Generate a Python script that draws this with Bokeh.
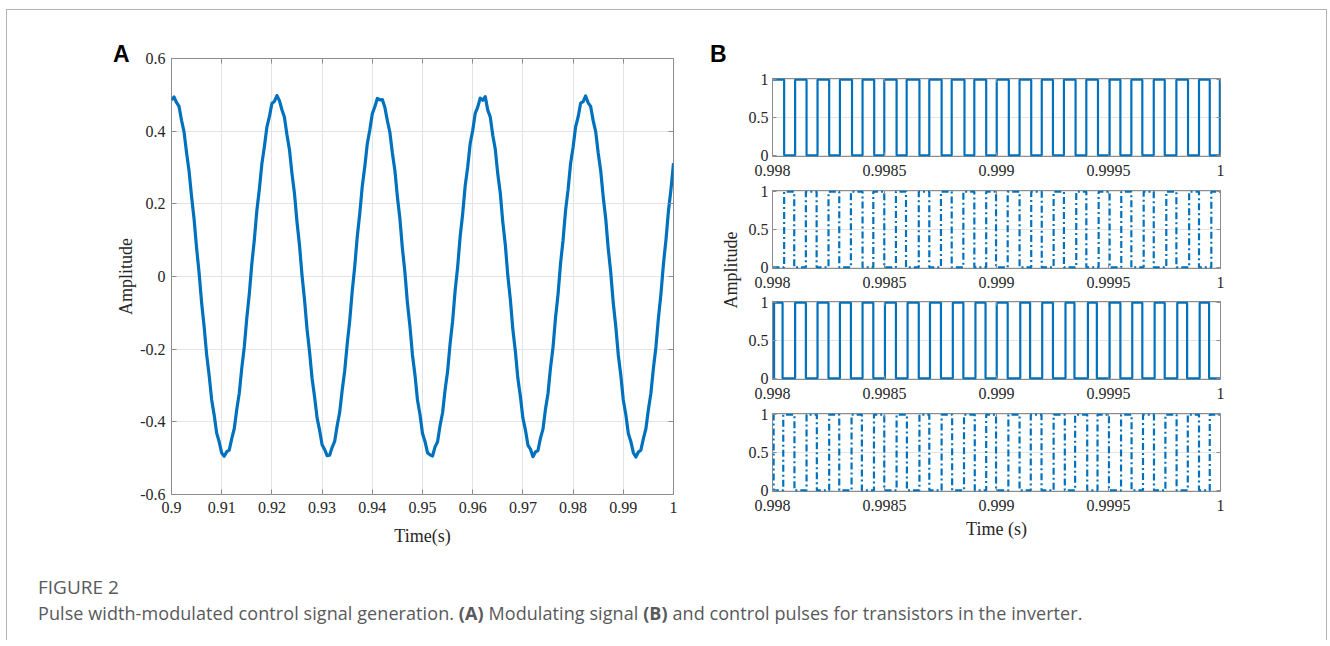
from bokeh.plotting import figure
from bokeh.models import Range1d, FixedTicker, CustomJSTickFormatter, LinearAxis, Div
from bokeh.layouts import row, column
from bokeh.embed import file_html
from bokeh.resources import INLINE

# ---------------- Data ----------------
# Panel A: modulating signal, read every 0.5 ms from 0.900 s to 1.000 s
a_amp = [
    0.486, 0.494, 0.479, 0.468, 0.430, 0.398, 0.341, 0.290, 0.220, 0.158,
    0.078, 0.010, -0.072, -0.138, -0.215, -0.272, -0.339, -0.381, -0.431, -0.455,
    -0.486, -0.495, -0.482, -0.478, -0.446, -0.419, -0.366, -0.321, -0.252, -0.194,
    -0.114, -0.048, 0.035, 0.101, 0.181, 0.240, 0.310, 0.357, 0.411, 0.440,
    0.476,
    0.482, 0.498, 0.484, 0.459, 0.438, 0.390, 0.349, 0.283, 0.228, 0.150,
    0.086, 0.003, -0.064, -0.145, -0.207, -0.280, -0.331, -0.389, -0.423, -0.463,
    -0.476, -0.493, -0.492, -0.470, -0.454, -0.411, -0.374, -0.313, -0.260, -0.186,
    -0.122, -0.040, 0.027, 0.109, 0.173, 0.248, 0.302, 0.365, 0.403, 0.448,
    0.467,
    0.490, 0.486, 0.487, 0.466, 0.429, 0.397, 0.340, 0.292, 0.219, 0.159,
    0.077, 0.011, -0.073, -0.137, -0.216, -0.271, -0.340, -0.380, -0.432, -0.454,
    -0.485, -0.491, -0.494, -0.469, -0.455, -0.410, -0.375, -0.312, -0.261, -0.185,
    -0.123, -0.039, 0.026, 0.110, 0.172, 0.249, 0.301, 0.366, 0.402, 0.449,
    0.466,
    0.491, 0.485, 0.495, 0.458, 0.439, 0.389, 0.350, 0.282, 0.229, 0.149,
    0.087, 0.002, -0.063, -0.146, -0.206, -0.281, -0.330, -0.390, -0.422, -0.464,
    -0.475, -0.496, -0.483, -0.479, -0.445, -0.420, -0.365, -0.322, -0.251, -0.195,
    -0.113, -0.049, 0.036, 0.100, 0.182, 0.239, 0.311, 0.356, 0.412, 0.439,
    0.477,
    0.481, 0.497, 0.478, 0.468, 0.429, 0.399, 0.340, 0.291, 0.219, 0.159,
    0.077, 0.011, -0.073, -0.137, -0.216, -0.271, -0.340, -0.380, -0.432, -0.454,
    -0.485, -0.497, -0.483, -0.478, -0.446, -0.419, -0.366, -0.321, -0.252, -0.194,
    -0.114, -0.048, 0.035, 0.101, 0.181, 0.240, 0.312,
]
a_time = [round(0.900 + 0.0005 * k, 4) for k in range(len(a_amp))]
a_xticks = [0.9, 0.91, 0.92, 0.93, 0.94, 0.95, 0.96, 0.97, 0.98, 0.99, 1.0]
a_xlabels = ["0.9", "0.91", "0.92", "0.93", "0.94", "0.95", "0.96", "0.97", "0.98", "0.99", "1"]
a_yticks = [-0.6, -0.4, -0.2, 0.0, 0.2, 0.4, 0.6]
a_ylabels = ["-0.6", "-0.4", "-0.2", "0", "0.2", "0.4", "0.6"]

# Panel B: gate pulses, switching instants in microseconds after 0.998 s
b_t0 = 0.998
b_t1 = 1.0
s1_init = 1
s1_edges_us = [52, 101, 152, 201, 253, 301, 355, 402, 454, 499, 554, 599, 656, 700, 755, 800,
               857, 901, 954, 1001, 1055, 1103, 1155, 1202, 1252, 1301, 1353, 1401, 1453, 1505,
               1553, 1602, 1651, 1702, 1751, 1803, 1855, 1904, 1952, 1997]
s2_init = 0
s2_edges_us = [52, 97, 149, 197, 250, 298, 350, 402, 450, 499, 551, 596, 653, 700, 752, 800,
               852, 901, 954, 998, 1050, 1103, 1155, 1202, 1255, 1301, 1356, 1401, 1456, 1505,
               1557, 1602, 1657, 1702, 1758, 1803, 1860, 1904, 1959]
s3_init = 0
s3_edges_us = [7, 45, 101, 149, 201, 250, 301, 350, 402, 450, 502, 551, 603, 653, 703, 752,
               805, 852, 906, 951, 1001, 1050, 1106, 1150, 1204, 1252, 1308, 1348, 1408, 1448,
               1505, 1553, 1606, 1651, 1706, 1751, 1807, 1851, 1907, 1949]
s4_init = 1
s4_edges_us = [5, 48, 98, 152, 198, 253, 298, 353, 399, 453, 499, 554, 600, 656, 700, 755,
               802, 855, 903, 954, 998, 1053, 1103, 1153, 1201, 1255, 1305, 1351, 1405, 1451,
               1502, 1556, 1603, 1654, 1703, 1754, 1804, 1854, 1904, 1952]
b_xticks = [0.998, 0.9985, 0.999, 0.9995, 1.0]
b_xlabels = ["0.998", "0.9985", "0.999", "0.9995", "1"]
b_yticks = [0.0, 0.5, 1.0]
b_ylabels = ["0", "0.5", "1"]

# ---------------- Style ----------------
BLUE = "#0072BD"
TXT = "#262626"
BOX = "#8c8c8c"
GRID = "#e4e4e4"
SERIF = "Liberation Serif"


def fmt(tick_values, tick_texts):
    return CustomJSTickFormatter(
        args=dict(tv=tick_values, tl=tick_texts),
        code="""
        for (let i = 0; i < tv.length; i++) {
            if (Math.abs(tv[i] - tick) < 1e-9) { return tl[i]; }
        }
        return "";
        """,
    )


def style_axes(p, xt, xl, yt, yl, fsize, tick_len, xstand, ystand):
    xtk = FixedTicker(ticks=xt)
    ytk = FixedTicker(ticks=yt)
    xa, ya = p.below[0], p.left[0]
    xa.ticker = xtk
    ya.ticker = ytk
    p.xgrid.ticker = xtk
    p.ygrid.ticker = ytk
    xa.formatter = fmt(xt, xl)
    ya.formatter = fmt(yt, yl)
    for ax in (xa, ya):
        ax.axis_line_color = None
        ax.major_tick_in = tick_len
        ax.major_tick_out = 0
        ax.major_tick_line_color = BOX
        ax.minor_tick_line_color = None
        ax.major_label_text_font = SERIF
        ax.major_label_text_font_size = fsize
        ax.major_label_text_color = TXT
        ax.axis_label_text_font = SERIF
        ax.axis_label_text_font_size = "18px"
        ax.axis_label_text_font_style = "normal"
        ax.axis_label_text_color = TXT
    xa.major_label_standoff = xstand
    ya.major_label_standoff = ystand
    for loc, tk in (("right", ytk), ("above", xtk)):
        ax = LinearAxis(ticker=tk, axis_line_color=None, major_tick_in=tick_len, major_tick_out=0,
                        major_tick_line_color=BOX, minor_tick_line_color=None,
                        major_label_text_font_size="1px", major_label_text_color=None,
                        major_label_standoff=0)
        p.add_layout(ax, loc)
    for g in (p.xgrid[0], p.ygrid[0]):
        g.grid_line_color = GRID
        g.grid_line_width = 1
    p.outline_line_color = BOX
    p.outline_line_width = 1
    p.background_fill_color = "white"
    p.border_fill_color = "white"
    return xa, ya


# ---------------- Panel A ----------------
pA = figure(width=693, height=550, x_range=Range1d(0.9, 1.0), y_range=Range1d(-0.6, 0.6),
            output_backend="svg", toolbar_location=None, tools="",
            min_border_left=164, min_border_right=27, min_border_top=48, min_border_bottom=66)
axA_x, axA_y = style_axes(pA, a_xticks, a_xlabels, a_yticks, a_ylabels, "16px", 5, 7, 6)
axA_x.axis_label = "Time(s)"
axA_y.axis_label = "Amplitude"
axA_x.axis_label_standoff = 10
axA_y.axis_label_standoff = 1
pA.line(a_time, a_amp, line_color=BLUE, line_width=3.2, line_join="round")


# ---------------- Panel B ----------------
def step_xy(init, edges_us):
    xs, ys, lvl = [b_t0], [init], init
    for e in edges_us:
        lvl = 1 - lvl
        xs.append(b_t0 + e * 1e-6)
        ys.append(lvl)
    xs.append(b_t1)
    ys.append(lvl)
    return xs, ys


def make_b(init, edges, dash, top, bottom, xlabel=None):
    p = figure(width=505, height=top + 78 + bottom, x_range=Range1d(b_t0, b_t1),
               y_range=Range1d(-0.015, 1.015), output_backend="svg", toolbar_location=None, tools="",
               min_border_left=26, min_border_right=30, min_border_top=top, min_border_bottom=bottom)
    xa, ya = style_axes(p, b_xticks, b_xlabels, b_yticks, b_ylabels, "16px", 4, 8, 4)
    if xlabel:
        xa.axis_label = xlabel
        xa.axis_label_standoff = 5
    xs, ys = step_xy(init, edges)
    if dash:
        p.step(xs, ys, mode="after", line_color=BLUE, line_width=2.2, line_dash="7 3 2 3")
    else:
        p.step(xs, ys, mode="after", line_color=BLUE, line_width=2.2)
    return p


b1 = make_b(s1_init, s1_edges_us, False, 68, 26)
b2 = make_b(s2_init, s2_edges_us, True, 8, 25)
b3 = make_b(s3_init, s3_edges_us, False, 8, 26)
b4 = make_b(s4_init, s4_edges_us, True, 8, 54, "Time (s)")

side = Div(width=45, height=550, margin=0, styles={"overflow": "visible", "z-index": "5"}, text=(
    "<div style='position:relative;width:45px;height:550px;overflow:visible;'>"
    "<div style=\"position:absolute;left:-587px;top:33px;font-family:'Liberation Sans';font-weight:bold;"
    "font-size:23px;line-height:23px;color:black;\">A</div>"
    "<div style=\"position:absolute;left:10px;top:33px;font-family:'Liberation Sans';font-weight:bold;"
    "font-size:23px;line-height:23px;color:black;\">B</div>"
    "<div style=\"position:absolute;left:32px;top:260px;transform:translate(-50%,-50%) rotate(-90deg);"
    "white-space:nowrap;font-family:'Liberation Serif';font-size:18px;color:#262626;\">Amplitude</div>"
    "</div>"))

caption = Div(width=1321, height=80, margin=0, text=(
    "<div style=\"position:relative;width:1300px;height:80px;font-family:'Open Sans';color:#58595b;\">"
    "<div style='position:absolute;left:31px;top:16px;font-size:19px;line-height:22px;white-space:nowrap;'>FIGURE 2</div>"
    "<div style='position:absolute;left:31px;top:42px;font-size:18px;line-height:22px;white-space:nowrap;"
    "letter-spacing:0.08px;'>"
    "Pulse width-modulated control signal generation. <b>(A)</b> Modulating signal <b>(B)</b> and control "
    "pulses for transistors in the inverter.</div></div>"))

layout = column(row(pA, side, column(b1, b2, b3, b4)), caption,
                margin=(9, 0, 0, 6),
                styles={"border-left": "1px solid #b4b4b4", "border-top": "1px solid #b4b4b4",
                        "border-right": "1px solid #b4b4b4", "width": "1321px"})

open("out.html", "w").write(file_html(layout, INLINE))
